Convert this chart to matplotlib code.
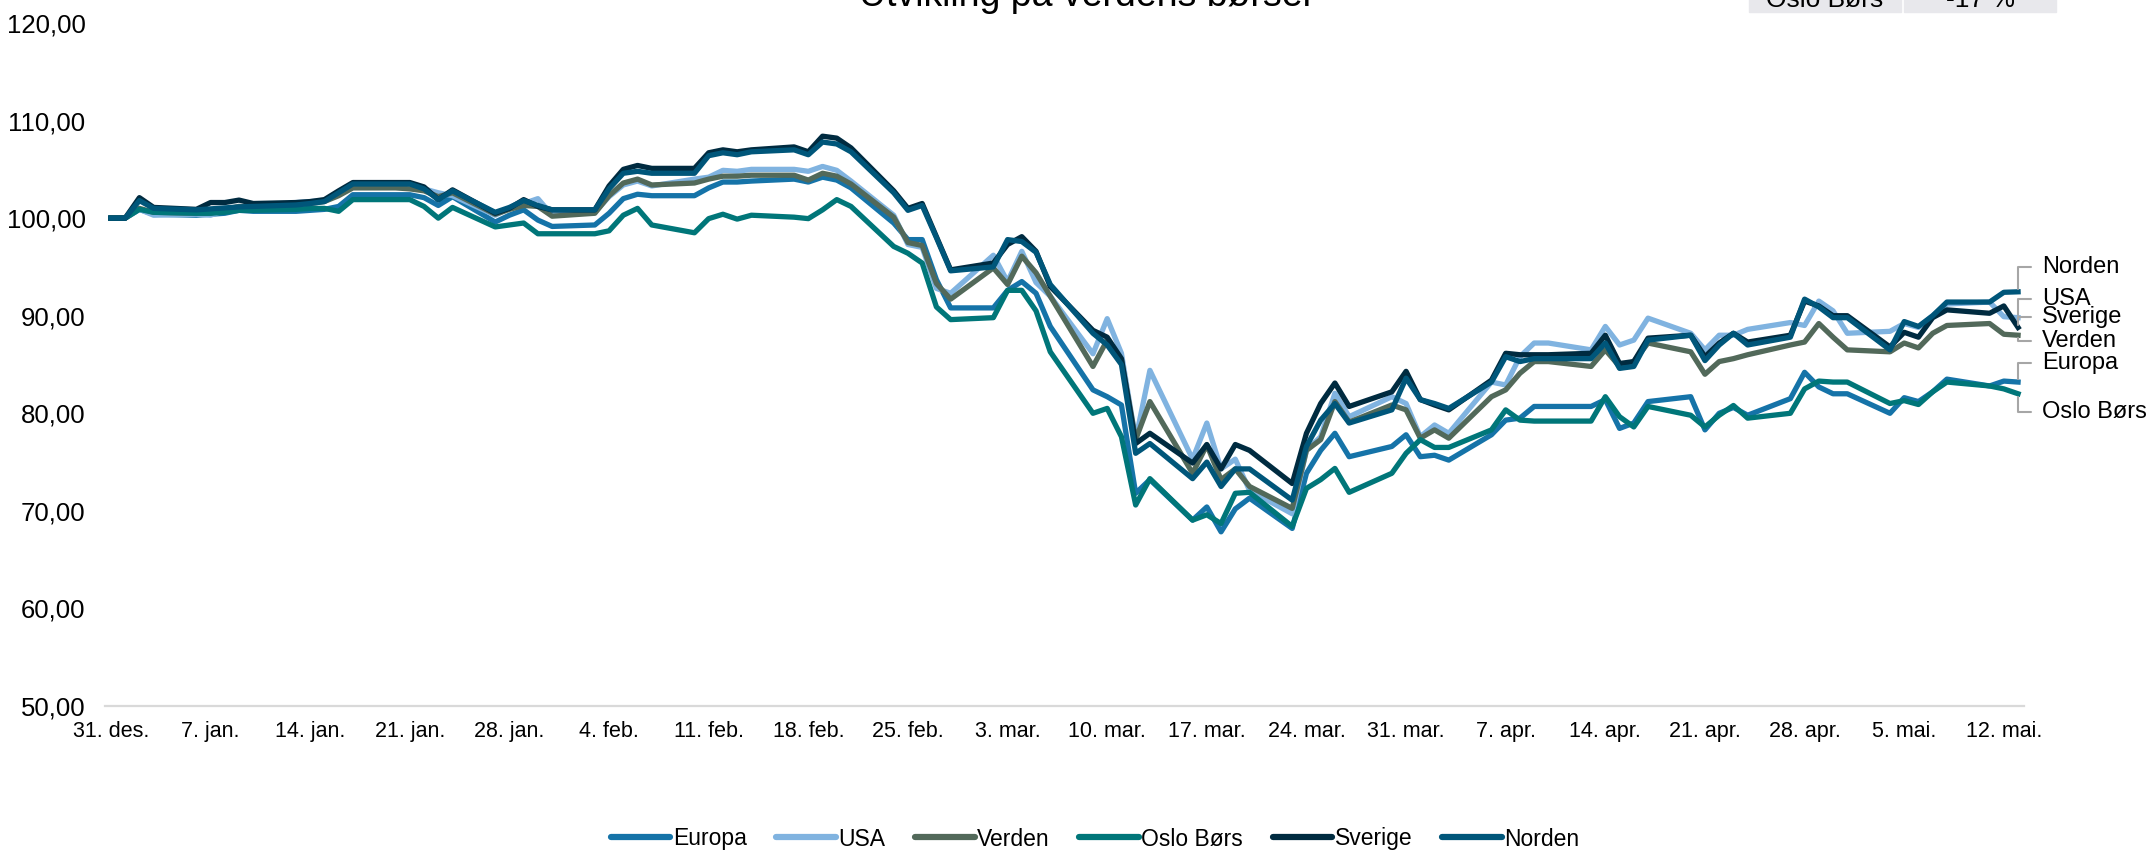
'''
Utvikling paa verdens boerser - indeksert til 100 ved 31. des.
'''

import matplotlib
matplotlib.use('Agg')
import matplotlib.pyplot as plt
from matplotlib import font_manager
import numpy as np
import pandas as pd

# handelsdager (alle ukedager, helligdager har samme verdi som dagen foer)
dates = pd.bdate_range('2019-12-31', '2020-05-13')

europa = [100.0,
          100.0, 100.9, 100.4,
          100.3, 100.4, 100.5, 100.8, 100.7,
          100.7, 100.8, 100.9, 101.2, 102.4,
          102.4, 102.4, 102.1, 101.3, 102.2,
          99.6, 100.3, 100.85, 99.8, 99.15,
          99.3, 100.5, 102.0, 102.45, 102.3,
          102.3, 103.1, 103.7, 103.7, 103.8,
          104.0, 103.7, 104.2, 103.9, 103.1,
          99.5, 97.8, 97.8, 93.7, 90.8,
          90.8, 92.6, 93.5, 92.3, 88.9,
          82.4, 81.7, 80.85, 71.8, 73.2,
          69.05, 70.4, 67.85, 70.2, 71.3,
          68.2, 73.85, 76.2, 77.95, 75.55,
          76.6, 77.8,
          75.55, 75.7, 75.2,
          77.8, 79.3, 79.5, 80.7, 80.7,
          80.7, 81.4, 78.45, 79.0, 81.2,
          81.7, 78.3, 80.0, 80.6, 79.8,
          81.5, 84.2, 82.7, 82.0,
          82.0,
          80.0, 81.6, 81.2, 82.2, 83.5,
          82.8, 83.3, 83.2]

usa = [100.0,
       100.0, 100.9, 100.3,
       100.4, 100.3, 100.8, 101.2, 101.0,
       101.6, 101.7, 101.8, 102.5, 103.2,
       103.2, 103.2, 103.0, 102.6, 102.3,
       100.3, 101.0, 101.5, 102.0, 100.3,
       100.6, 102.2, 103.4, 103.8, 103.3,
       104.0, 104.2, 104.9, 104.8, 105.0,
       105.0, 104.8, 105.3, 104.9, 103.8,
       100.3, 97.3, 97.0, 92.8, 92.3,
       96.2, 93.5, 96.6, 93.4, 92.0,
       86.1, 89.7, 86.15, 77.3, 84.4,
       75.3, 79.0, 74.3, 75.3, 72.1,
       69.7, 76.2, 77.6, 82.05, 79.65,
       81.7, 81.0,
       77.6, 78.8, 77.95,
       83.2, 82.9, 85.8, 87.2, 87.2,
       86.5, 88.9, 87.0, 87.5, 89.75,
       88.2, 86.5, 88.0, 88.0, 88.6,
       89.3, 89.0, 91.5, 90.5,
       88.2,
       88.4, 89.2, 88.8, 90.0, 91.2,
       91.4, 89.9, 89.8]

verden = [100.0,
          100.0, 101.0, 100.6,
          100.5, 100.5, 100.9, 101.2, 101.1,
          101.4, 101.5, 101.7, 102.3, 103.1,
          103.1, 103.0, 102.8, 102.2, 102.6,
          100.4, 100.9, 101.3, 101.2, 100.2,
          100.5, 102.3, 103.6, 104.0, 103.4,
          103.6, 104.0, 104.3, 104.3, 104.4,
          104.4, 103.9, 104.6, 104.3, 103.5,
          100.1, 97.5, 97.2, 93.3, 91.7,
          94.9, 93.2, 96.1, 94.4, 92.0,
          84.8, 87.5, 85.5, 77.3, 81.2,
          73.85, 76.75, 73.2, 74.3, 72.5,
          70.25, 76.2, 77.3, 81.2, 79.1,
          80.85, 80.35,
          77.45, 78.3, 77.45,
          81.7, 82.4, 84.1, 85.3, 85.3,
          84.8, 86.5, 84.8, 85.3, 87.2,
          86.3, 84.0, 85.3, 85.6, 86.0,
          87.0, 87.3, 89.2, 87.8,
          86.5,
          86.3, 87.2, 86.7, 88.2, 89.0,
          89.2, 88.1, 88.0]

oslo = [100.0,
        100.0, 100.9, 100.6,
        100.5, 100.5, 100.6, 100.8, 100.8,
        100.9, 101.0, 101.0, 100.7, 101.9,
        101.9, 101.9, 101.2, 100.0, 101.1,
        99.1, 99.3, 99.5, 98.4, 98.4,
        98.4, 98.7, 100.3, 101.0, 99.3,
        98.5, 99.95, 100.4, 99.9, 100.3,
        100.1, 99.95, 100.85, 101.9, 101.2,
        97.1, 96.4, 95.4, 90.9, 89.6,
        89.8, 92.6, 92.6, 90.5, 86.3,
        80.0, 80.5, 77.6, 70.6, 73.3,
        69.05, 69.6, 68.7, 71.8, 71.9,
        68.4, 72.3, 73.2, 74.35, 71.9,
        73.85, 75.9,
        77.3, 76.5, 76.5,
        78.3, 80.35, 79.3, 79.2, 79.2,
        79.2, 81.7, 79.65, 78.6, 80.7,
        79.8, 78.6, 79.8, 80.8, 79.5,
        80.0, 82.5, 83.3, 83.2,
        83.2,
        81.0, 81.3, 80.9, 82.2, 83.2,
        82.8, 82.5, 82.0]

sverige = [100.0,
           100.0, 102.1, 101.1,
           100.9, 101.6, 101.6, 101.85, 101.5,
           101.6, 101.7, 101.9, 102.8, 103.65,
           103.65, 103.65, 103.2, 101.9, 102.9,
           100.5, 101.0, 101.9, 101.2, 100.85,
           100.85, 103.3, 105.0, 105.4, 105.1,
           105.1, 106.7, 107.0, 106.8, 107.0,
           107.3, 106.8, 108.4, 108.2, 107.2,
           102.8, 101.0, 101.5, 98.1, 94.7,
           95.4, 97.3, 98.1, 96.6, 93.0,
           88.5, 87.8, 85.6, 76.9, 77.95,
           74.9, 76.8, 74.3, 76.8, 76.2,
           72.8, 77.95, 81.0, 83.1, 80.7,
           82.2, 84.3,
           81.4, 80.85, 80.35,
           83.4, 86.15, 86.0, 86.0, 86.0,
           86.15, 88.0, 85.1, 85.3, 87.7,
           88.0, 85.8, 87.2, 88.2, 87.3,
           88.0, 91.5, 91.0, 90.0,
           90.0,
           86.8, 88.3, 87.8, 89.8, 90.6,
           90.25, 91.0, 88.8]

norden = [100.0,
          100.0, 101.8, 101.0,
          100.85, 100.95, 101.05, 101.15, 101.2,
          101.35, 101.5, 101.7, 102.6, 103.5,
          103.5, 103.5, 103.0, 101.9, 102.8,
          100.6, 101.1, 101.8, 101.3, 100.85,
          100.85, 103.0, 104.6, 104.8, 104.6,
          104.6, 106.4, 106.7, 106.5, 106.8,
          107.0, 106.5, 107.8, 107.6, 106.8,
          102.6, 100.8, 101.3, 98.0, 94.6,
          95.0, 97.8, 97.6, 96.5, 93.2,
          88.2, 87.0, 85.0, 75.9, 76.9,
          73.3, 75.0, 72.5, 74.3, 74.3,
          71.1, 76.6, 79.3, 81.0, 79.0,
          80.35, 83.6,
          81.4, 81.0, 80.5,
          83.2, 85.8, 85.3, 85.6, 85.6,
          85.6, 87.2, 84.6, 84.8, 87.5,
          88.0, 85.4, 87.0, 88.2, 87.0,
          87.8, 91.7, 90.9, 89.8,
          89.8,
          86.5, 89.4, 88.9, 90.0, 91.4,
          91.4, 92.4, 92.45]

names = ['Europa', 'USA', 'Verden', 'Oslo Børs', 'Sverige', 'Norden']
colors = ['#1573a8', '#80b3e0', '#52695a', '#007679', '#002b40', '#00567a']

tick_dates = pd.date_range('2019-12-31', '2020-05-12', freq='7D')
tick_labels = ['31. des.', '7. jan.', '14. jan.', '21. jan.', '28. jan.', '4. feb.',
               '11. feb.', '18. feb.', '25. feb.', '3. mar.', '10. mar.', '17. mar.',
               '24. mar.', '31. mar.', '7. apr.', '14. apr.', '21. apr.', '28. apr.',
               '5. mai.', '12. mai.']

# y-forskyvning av etikett ved linjeslutt, i punkter
label_offsets = {'Norden': 17.8, 'USA': 13.2, 'Sverige': 7.4,
                 'Verden': -4.3, 'Europa': 13.5, 'Oslo Børs': -13.2}

plt.rcParams['font.family'] = ['Liberation Sans', 'DejaVu Sans']

# smal skrift for akse og tegnforklaring hvis den finnes
installed = set(f.name for f in font_manager.fontManager.ttflist)
if 'Liberation Sans Narrow' in installed:
    narrow, narrow_size = ['Liberation Sans Narrow', 'DejaVu Sans'], 18
else:
    narrow, narrow_size = ['Liberation Sans', 'DejaVu Sans'], 15.5

fig = plt.figure(figsize=(21.49, 8.51), dpi=100)
ax = fig.add_axes([105/2149., 1 - 706/851., (2024 - 105)/2149., (706 - 23)/851.])

series = [europa, usa, verden, oslo, sverige, norden]
for name, vals, c in zip(names, series, colors):
    assert len(vals) == len(dates), name
    ax.plot(dates, vals, color=c, lw=3.8, label=name)

    ax.annotate(name, xy=(dates[-1], vals[-1]), xytext=(17, label_offsets[name]),
                textcoords='offset points', ha='left', va='center', fontsize=17,
                color='#000000',
                arrowprops=dict(arrowstyle='-', color='#a6a6a6', lw=1.5,
                                connectionstyle='angle,angleA=0,angleB=90,rad=0',
                                shrinkA=6, shrinkB=2))

ax.set_ylim(50, 120)
ax.set_yticks(np.arange(50, 121, 10))
ax.set_yticklabels(['%d,00' % v for v in np.arange(50, 121, 10)], fontsize=18.5)
ax.set_xlim(dates[0] - pd.Timedelta(hours=10), dates[-1] + pd.Timedelta(hours=10))
ax.set_xticks(tick_dates)
ax.set_xticklabels(tick_labels, fontsize=narrow_size, family=narrow)
ax.tick_params(axis='both', length=0)
ax.tick_params(axis='y', pad=14)
ax.tick_params(axis='x', pad=11)

for s in ['top', 'right', 'left']:
    ax.spines[s].set_visible(False)
ax.spines['bottom'].set_color('#d9d9d9')
ax.spines['bottom'].set_linewidth(1.6)

leg = fig.legend(loc='center', bbox_to_anchor=(1095/2149., 1 - 839/851.), ncol=6,
                 frameon=False, handlelength=2.6, handletextpad=0.1,
                 columnspacing=1.3, prop={'family': narrow, 'size': narrow_size + 1})
for h in leg.legend_handles:
    h.set_linewidth(4.5)
    h.set_solid_capstyle('round')

## tittel og tabell som er delvis utenfor bildet
fig.text(1087/2149., 1 - 6.5/851., 'Utvikling på verdens børser', fontsize=27,
         ha='center', va='baseline')
cell_color = '#e8e8ec'
fig.patches.append(plt.Rectangle((1749/2149., 1 - 11.7/851.), 152/2149., 20/851.,
                                 transform=fig.transFigure, color=cell_color, zorder=0))
fig.patches.append(plt.Rectangle((1904/2149., 1 - 11.7/851.), 152/2149., 20/851.,
                                 transform=fig.transFigure, color=cell_color, zorder=0))
fig.text(1825/2149., 1 - 6.7/851., 'Oslo Børs', fontsize=19, ha='center', va='baseline')
fig.text(1980/2149., 1 - 6.7/851., '-17 %', fontsize=19, ha='center', va='baseline')

fig.savefig('out.png', dpi=100, facecolor='white')
